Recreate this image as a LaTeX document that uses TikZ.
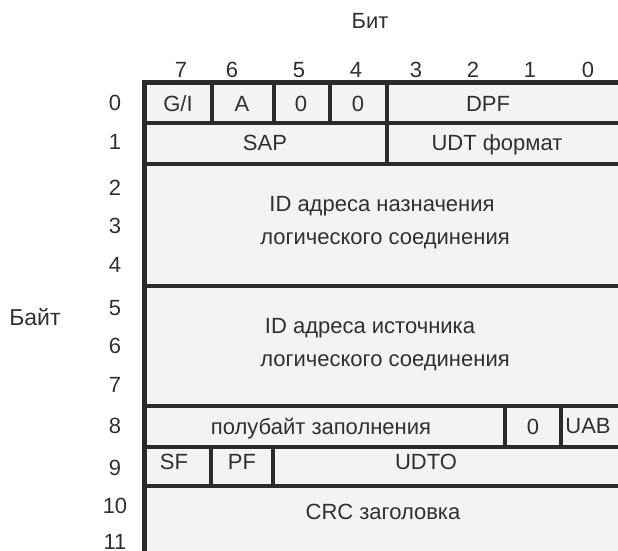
\documentclass[tikz,border=0pt]{standalone}
\usepackage{fontspec}
\setmainfont{Liberation Sans}
\begin{document}
\begin{tikzpicture}[x=1pt,y=-1pt,
  lbl/.style={anchor=base,inner sep=0pt,text=txtc,font=\fontsize{22}{26}\selectfont},
  outer/.style={draw=linec,line width=4.8pt},
  inner/.style={draw=linec,line width=4pt}]
\definecolor{linec}{HTML}{2B2B2B}
\definecolor{cellc}{HTML}{F3F3F3}
\definecolor{txtc}{HTML}{303030}
\useasboundingbox (0,0) rectangle (618,550);
\clip (0,0) rectangle (618,550);
% cell background
\fill[cellc] (144.5,82.5) rectangle (630,560);
% horizontal lines
\draw[outer] (142.1,82.5) -- (630,82.5);
\foreach \yy in {123,163.5,285.5,405.5,446.5,486}
  \draw[inner] (144.5,\yy) -- (630,\yy);
% left frame
\draw[outer] (144.5,80.1) -- (144.5,560);
% vertical dividers row 0
\foreach \xx in {212,273.5,330,386.5}
  \draw[inner] (\xx,82.5) -- (\xx,123);
% row 1
\draw[inner] (386.5,123) -- (386.5,163.5);
% row 8
\foreach \xx in {504.5,561}
  \draw[inner] (\xx,405.5) -- (\xx,446.5);
% row 9
\foreach \xx in {210.5,273}
  \draw[inner] (\xx,446.5) -- (\xx,486);
% titles
\node[lbl] (bit) at (370,28) {Бит};
\node[lbl,font=\fontsize{23}{27}\selectfont] (bajt) at (35,325) {Байт};
% bit numbers
\node[lbl] (b7) at (181,77) {7};
\node[lbl] (b6) at (232,77) {6};
\node[lbl] (b5) at (299,77) {5};
\node[lbl] (b4) at (356,77) {4};
\node[lbl] (b3) at (416,77) {3};
\node[lbl] (b2) at (473,77) {2};
\node[lbl] (b1) at (530,77) {1};
\node[lbl] (b0) at (588,77) {0};
% byte numbers
\node[lbl] (y0) at (115,110) {0};
\node[lbl] (y1) at (115,149.5) {1};
\node[lbl] (y2) at (115,195) {2};
\node[lbl] (y3) at (115,233) {3};
\node[lbl] (y4) at (115,272) {4};
\node[lbl] (y5) at (115,315) {5};
\node[lbl] (y6) at (115,353) {6};
\node[lbl] (y7) at (115,392) {7};
\node[lbl] (y8) at (115,433) {8};
\node[lbl] (y9) at (115,475) {9};
\node[lbl] (y10) at (115,513) {10};
\node[lbl] (y11) at (115,549) {11};
% row 0
\node[lbl] (gi) at (178,111) {G/I};
\node[lbl] (a) at (242,111) {A};
\node[lbl] (z1) at (301,111) {0};
\node[lbl] (z2) at (358,111) {0};
\node[lbl] (dpf) at (488,111) {DPF};
% row 1
\node[lbl] (sap) at (265,150.5) {SAP};
\node[lbl] (udtf) at (497,150.5) {UDT формат};
% rows 2-4
\node[lbl] (dst1) at (382,211) {ID адреса назначения};
\node[lbl] (dst2) at (385,244) {логического соединения};
% rows 5-7
\node[lbl] (src1) at (370,333) {ID адреса источника};
\node[lbl] (src2) at (385,366) {логического соединения};
% row 8
\node[lbl] (pad) at (321,434) {полубайт заполнения};
\node[lbl] (z3) at (533,434) {0};
\node[lbl] (uab) at (588,433) {UAB};
% row 9
\node[lbl] (sf) at (174,469) {SF};
\node[lbl] (pf) at (242,469) {PF};
\node[lbl] (udto) at (426,469) {UDTO};
% rows 10-11
\node[lbl] (crc) at (383,519) {CRC заголовка};
\end{tikzpicture}
\end{document}
